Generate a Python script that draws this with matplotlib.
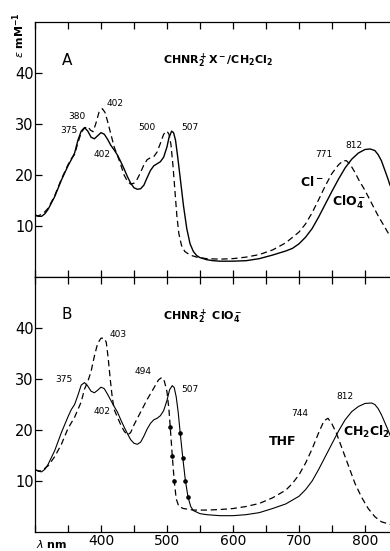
import numpy as np
import matplotlib.pyplot as plt

# panel A: CHNR2+ X- in CH2Cl2
wl_a_clo4 = [300, 305, 310, 315, 320, 330, 340, 350, 355, 360, 365, 370, 375, 380, 385, 390,
             395, 400, 405, 410, 415, 420, 425, 430, 435, 440, 445, 450, 455, 460, 465, 470,
             475, 480, 485, 490, 495, 500, 503, 507, 510, 513, 516, 520, 525, 530, 535, 540,
             545, 550, 560, 570, 580, 600, 620, 640, 660, 680, 690, 700, 710, 720, 730, 740,
             750, 760, 770, 780, 790, 800, 808, 815, 820, 825, 830, 835, 838]
eps_a_clo4 = [12.2, 11.9, 11.9, 12.4, 13.3, 15.8, 19.0, 21.8, 23.0, 24.3, 26.8, 28.6, 29.3, 28.6, 27.4, 27.1,
              27.7, 28.3, 28.0, 27.0, 25.8, 24.9, 23.9, 22.6, 21.2, 19.7, 18.4, 17.5, 17.2, 17.3, 18.0, 19.5,
              20.9, 21.8, 22.2, 22.6, 23.5, 25.5, 27.3, 28.6, 28.3, 26.8, 23.8, 19.5, 14.0, 9.5, 6.5, 5.0,
              4.2, 3.8, 3.4, 3.2, 3.1, 3.1, 3.2, 3.6, 4.3, 5.1, 5.6, 6.5, 7.8, 9.5, 11.8, 14.3,
              16.8, 19.2, 21.4, 23.1, 24.3, 25.0, 25.1, 24.8, 24.0, 22.8, 21.0, 19.2, 18.0]

wl_a_cl = [300, 305, 310, 315, 320, 330, 340, 350, 355, 360, 365, 370, 375, 380, 384, 388,
           392, 397, 402, 406, 410, 415, 420, 425, 430, 435, 440, 445, 450, 455, 460, 465,
           470, 475, 480, 485, 490, 495, 500, 503, 506, 509, 512, 515, 518, 522, 527, 535,
           545, 560, 580, 600, 620, 640, 660, 680, 700, 710, 720, 730, 740, 750, 760, 767,
           772, 778, 785, 790, 800, 810, 820, 830, 838]
eps_a_cl = [12.0, 12.0, 12.3, 12.8, 13.5, 16.0, 19.2, 22.0, 23.2, 24.0, 26.3, 28.3, 29.2, 29.5, 28.8, 28.5,
            30.0, 32.3, 33.0, 32.3, 30.5, 28.0, 25.5, 23.8, 22.0, 20.0, 18.8, 18.2, 18.4, 19.2, 20.5, 22.0,
            23.0, 23.4, 23.6, 24.5, 26.2, 28.0, 28.6, 28.0, 26.0, 22.0, 17.0, 12.0, 8.5, 6.2, 5.0, 4.3,
            3.9, 3.6, 3.5, 3.6, 3.9, 4.4, 5.3, 6.7, 8.8, 10.4, 12.6, 15.2, 17.9, 20.3, 22.0, 22.8,
            22.8, 22.0, 20.5, 19.2, 17.0, 14.5, 12.0, 9.8, 8.0]

# panel B: CHNR2+ ClO4- in CH2Cl2 and THF
wl_b_ch2cl2 = [300, 305, 310, 315, 320, 330, 340, 350, 355, 360, 365, 370, 375, 380, 385, 390,
               395, 400, 405, 410, 415, 420, 425, 430, 435, 440, 445, 450, 455, 460, 465, 470,
               475, 480, 485, 490, 495, 500, 504, 508, 511, 514, 517, 520, 524, 528, 532, 536,
               540, 550, 560, 580, 600, 620, 640, 660, 680, 700, 710, 720, 730, 740, 750, 760,
               770, 780, 790, 800, 810, 815, 820, 825, 830, 835, 838]
eps_b_ch2cl2 = [12.3, 11.9, 11.8, 12.3, 13.3, 16.0, 19.5, 22.6, 24.0, 25.0, 26.8, 28.8, 29.3, 28.6, 27.6, 27.3,
                27.8, 28.4, 28.1, 27.0, 25.8, 24.6, 23.5, 22.0, 20.6, 19.3, 18.1, 17.4, 17.2, 17.6, 18.8, 20.2,
                21.3, 22.0, 22.3, 22.8, 23.8, 25.8, 27.9, 28.7, 28.3, 26.5, 23.5, 19.5, 14.5, 10.0, 6.8, 5.0,
                4.2, 3.6, 3.4, 3.2, 3.2, 3.4, 3.8, 4.6, 5.5, 7.0, 8.3, 10.0, 12.3, 14.8, 17.3, 19.8,
                22.0, 23.6, 24.6, 25.2, 25.3, 25.0, 24.2, 23.0, 21.5, 20.0, 19.0]

wl_b_thf = [300, 305, 310, 320, 330, 340, 350, 360, 370, 375, 380, 385, 390, 395, 400, 405,
            408, 411, 414, 417, 420, 425, 430, 435, 440, 445, 450, 460, 470, 480, 487, 492,
            496, 500, 503, 505, 508, 511, 514, 518, 525, 540, 560, 580, 600, 620, 640, 660,
            680, 690, 700, 710, 720, 730, 738, 744, 750, 757, 765, 775, 785, 795, 805, 815,
            825, 838]
eps_b_thf = [12.2, 12.0, 12.0, 13.0, 14.8, 17.2, 20.3, 22.5, 25.5, 28.0, 29.5, 31.5, 34.5, 37.0, 38.0, 38.0,
             37.2, 34.0, 30.0, 26.5, 24.0, 22.5, 21.0, 19.8, 19.0, 19.5, 21.0, 23.5, 26.0, 28.2, 29.8, 30.3,
             29.6, 27.5, 24.0, 20.5, 15.0, 10.0, 6.5, 5.0, 4.6, 4.3, 4.3, 4.4, 4.6, 5.0, 5.6, 6.7,
             8.2, 9.5, 11.2, 13.5, 16.3, 19.5, 21.8, 22.3, 21.2, 19.3, 16.5, 13.0, 9.5, 6.8, 4.6, 3.0,
             2.0, 1.5]

# peak labels: (text, wavelength, epsilon)
labels_a = [("402", 409, 34.0), ("380", 350, 31.4), ("375", 338, 28.7), ("402", 388, 24.1),
            ("500", 456, 29.4), ("507", 522, 29.4), ("771", 724, 24.1), ("812", 770, 25.7)]
labels_b = [("403", 413, 38.8), ("375", 330, 30.0), ("402", 388, 23.7), ("494", 451, 31.4),
            ("507", 522, 28.0), ("744", 689, 23.3), ("812", 757, 26.5)]

xtick_pos = [300, 350, 400, 450, 500, 550, 600, 650, 700, 750, 800]
xtick_lab = ["", "", "400", "", "500", "", "600", "", "700", "", "800"]

DASH = (0, (5, 3))

fig = plt.figure(figsize=(3.9, 5.51), dpi=100)
ax_a = fig.add_axes([35 / 390, 1 - 277 / 551, 1 - 35 / 390, 255 / 551])
ax_b = fig.add_axes([35 / 390, 1 - 532 / 551, 1 - 35 / 390, 255 / 551])

for ax in (ax_a, ax_b):
    ax.set_xlim(300, 838)
    ax.set_ylim(0, 50)
    ax.spines['right'].set_visible(False)
    for s in ('left', 'top', 'bottom'):
        ax.spines[s].set_linewidth(0.9)
    ax.set_xticks(xtick_pos)
    ax.set_yticks([10, 20, 30, 40])
    ax.tick_params(axis='both', direction='in', length=5, width=0.9, top=True,
                   labelsize=10.5, pad=2)
    ax.tick_params(axis='y', pad=1)

ax_a.tick_params(axis='x', labelbottom=False)
ax_b.set_xticklabels(xtick_lab)
ax_b.tick_params(axis='x', pad=1.5, labelsize=10)

# panel A curves
ax_a.plot(wl_a_clo4, eps_a_clo4, color='black', lw=1.0)
ax_a.plot(wl_a_cl, eps_a_cl, color='black', lw=0.9, ls=DASH)

# panel B curves
ax_b.plot(wl_b_ch2cl2, eps_b_ch2cl2, color='black', lw=0.8)
ax_b.plot(wl_b_thf, eps_b_thf, color='black', lw=0.9, ls=DASH)
# dotted sections on the steep edges
seg_thf = slice(wl_b_thf.index(505), wl_b_thf.index(511) + 1)
seg_sol = slice(wl_b_ch2cl2.index(520), wl_b_ch2cl2.index(532) + 1)
ax_b.plot(wl_b_thf[seg_thf], eps_b_thf[seg_thf], ls='none', marker='o', ms=2.3,
          color='black')
ax_b.plot(wl_b_ch2cl2[seg_sol], eps_b_ch2cl2[seg_sol], ls='none', marker='o', ms=2.3,
          color='black')

for t, x, y in labels_a:
    ax_a.text(x, y, t, fontsize=6.5, va='center', ha='left')
for t, x, y in labels_b:
    ax_b.text(x, y, t, fontsize=6.5, va='center', ha='left')

ax_a.text(348, 42.4, "A", fontsize=11, ha='center', va='center')
ax_b.text(348, 42.7, "B", fontsize=11, ha='center', va='center')
ax_a.text(494, 42.4, r'$\mathbf{CHNR_2^+X^-/CH_2Cl_2}$', fontsize=8, ha='left', va='center')
ax_b.text(494, 42.2, r'$\mathbf{CHNR_2^+\ ClO_4^-}$', fontsize=8, ha='left', va='center')

ax_a.text(701, 18.6, r'$\mathbf{Cl^-}$', fontsize=9, ha='left', va='center')
ax_a.text(750, 14.7, r'$\mathbf{ClO_4^-}$', fontsize=9, ha='left', va='center')
ax_b.text(655, 17.8, "THF", fontsize=9, fontweight='bold', ha='left', va='center')
ax_b.text(767, 19.6, r'$\mathbf{CH_2Cl_2}$', fontsize=9, ha='left', va='center')

fig.text(19 / 390, 1 - 35 / 551, r'$\epsilon$ $\mathbf{mM^{-1}}$', rotation=90,
         fontsize=8, ha='center', va='center')
fig.text(52 / 390, 1 - 544 / 551, r'$\lambda$ $\mathbf{nm}$', fontsize=8,
         ha='center', va='center')

fig.savefig("out.png", dpi=100)
